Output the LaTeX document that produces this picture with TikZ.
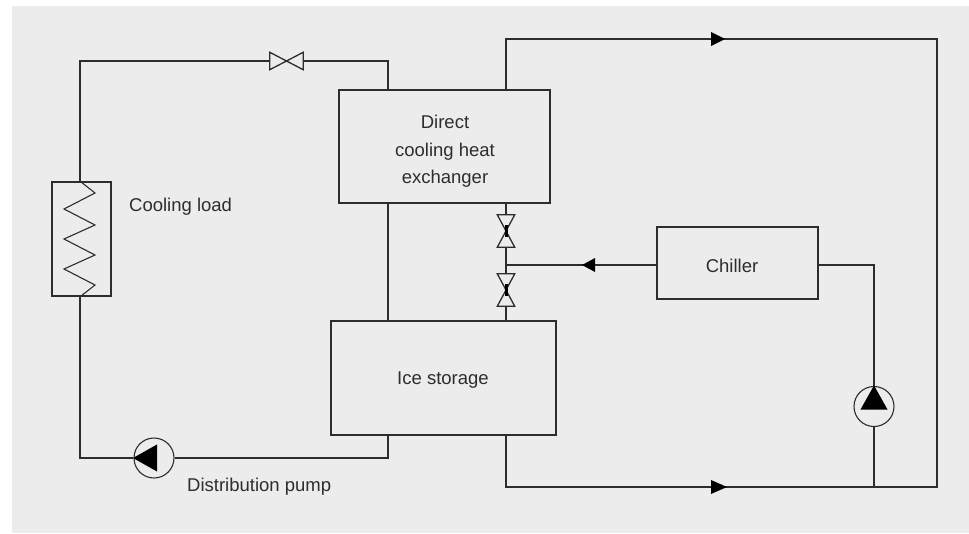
\documentclass[tikz,border=0pt]{standalone}
\usepackage{fontspec}
\setmainfont{Liberation Sans}
\definecolor{panel}{RGB}{236,236,236}
\definecolor{ink}{RGB}{45,45,45}
\tikzset{
  unit/.style={draw=ink, line width=1.7pt, inner sep=0pt, text=ink},
  txt/.style={text=ink, inner sep=0pt},
  pipe/.style={draw=ink, line width=1.5pt, line join=miter},
  valve/.style={inner sep=0pt, minimum width=#1, minimum height=17pt},
  pump/.style={circle, draw=ink, line width=1.1pt, inner sep=0pt, minimum size=40pt}
}
\begin{document}
\begin{tikzpicture}[x=1pt, y=-1pt, font=\fontsize{18.5}{27.5}\selectfont]
  % panel and page
    \useasboundingbox (0,0) rectangle (969,533);
    \fill[panel] (12,6) rectangle (969,533);

    \coordinate(cornerA) at (80,61);
    \coordinate(cornerB) at (388,61);
    \coordinate(cornerC) at (80,458);
    \coordinate(cornerD) at (388,458);
    \coordinate(cornerE) at (506,39);
    \coordinate(cornerF) at (937,39);
    \coordinate(cornerG) at (937,487);
    \coordinate(cornerH) at (506,487);
    \coordinate(cornerI) at (874,265);
    \coordinate(teeA) at (506,265);
    \coordinate(teeB) at (874,487);

    \node[unit, minimum width=211pt, minimum height=113pt] (direct) at (444.5,146.5) {};
    \node[unit, minimum width=225pt, minimum height=114pt] (ice) at (443.5,378) {};
    \node[unit, minimum width=161pt, minimum height=72pt] (chiller) at (737.5,263) {};
    \node[unit, minimum width=59pt, minimum height=114pt] (load) at (81.5,239) {};
    \node[txt, align=center] (directText) at (445,151.5) {Direct\\cooling heat\\exchanger};
    \node[txt] (iceText) at (443,380.5) {Ice storage};
    \node[txt] (chillerText) at (732,265.5) {Chiller};
    \node[txt, anchor=west] (loadText) at (129,206.5) {Cooling load};
    \node[txt, anchor=west] (pumpText) at (187,486.5) {Distribution pump};

    \node[valve=33pt] (valveT) at (286.5,61) {};
    \node[valve=32pt, rotate=90] (valveA) at (506,231) {};
    \node[valve=32pt, rotate=90] (valveB) at (506,290) {};
    \node[pump] (pumpL) at (154,458) {};
    \node[pump] (pumpR) at (874,406.5) {};

    \draw[pipe] (valveT.west) -- (cornerA) -- (load.north -| cornerA);
    \draw[pipe] (valveT.east) -- (cornerB) -- (direct.north -| cornerB);
    \draw[pipe] (load.south -| cornerC) -- (cornerC) -- (pumpL.west);
    \draw[pipe] (pumpL.east) -- (cornerD) -- (ice.south -| cornerD);
    \draw[pipe] (direct.south -| cornerB) -- (ice.north -| cornerB);
    \draw[pipe] (direct.north -| cornerE) -- (cornerE) -- (cornerF) -- (cornerG) -- (cornerH) -- (ice.south -| cornerH);
    \draw[pipe] (direct.south -| teeA) -- (valveA.east);
    \draw[pipe] (valveA.west) -- (valveB.east);
    \draw[pipe] (valveB.west) -- (ice.north -| teeA);
    \draw[pipe] (chiller.west |- teeA) -- (teeA);
    \draw[pipe] (chiller.east |- cornerI) -- (cornerI) -- (pumpR.north);
    \draw[pipe] (pumpR.south) -- (teeB);

    % coil of the cooling load
    \draw[ink, line width=1.1pt] (load.north -| cornerA) -- (95,193) -- (64,209) -- (95,225) -- (64,239)
      -- (95,255) -- (64,269) -- (95,285) -- (load.south -| cornerA);

    \foreach \v in {valveT, valveA, valveB}
      \draw[ink, line width=1.3pt] (\v.north west) -- (\v.south west) -- (\v.north east) -- (\v.south east) --cycle;
    \foreach \v in {valveA, valveB}
      \draw[black, line width=3pt, shift={(\v)}] (0,-6) -- (0,6);

    \foreach \p/\a in {pumpL/0, pumpR/-90}
      \fill[black, shift={(\p)}, rotate=\a] (-21,0) -- (3,-13.5) -- (3,13.5) --cycle;

    \fill[black] (711,32) -- (725,39) -- (711,46) --cycle;
    \fill[black] (711,480) -- (727,487) -- (711,494) --cycle;
    \fill[black] (595,258) -- (582,265) -- (595,272) --cycle;
  \end{tikzpicture}
\end{document}
